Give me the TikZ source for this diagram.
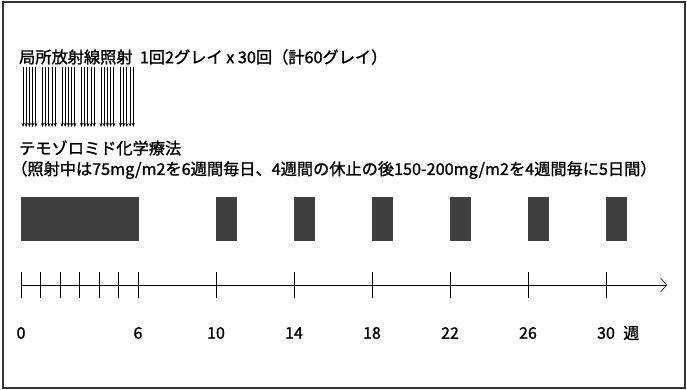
\documentclass[tikz,border=0pt]{standalone}
\usepackage{fontspec}
\setmainfont{Noto Sans CJK JP}
\newfontfamily\jpheavy{Noto Sans CJK JP}[FakeBold=1.3]
\usetikzlibrary{arrows.meta,positioning}

\begin{document}
\begin{tikzpicture}[
    x=1pt, y=-1pt,
    caption/.style={anchor=west, inner sep=0pt, font=\jpheavy\fontsize{16.2}{19}\selectfont},
    ticklabel/.style={inner sep=0pt, font=\jpheavy\fontsize{16}{18}\selectfont},
    dose/.style={rectangle, draw=black!75, fill=black!75, line width=0.5pt, anchor=north west, minimum height=43, inner sep=0pt},
    ray/.style={-{Stealth[length=4pt,width=3pt]}, line width=0.85pt},
    axis/.style={-{Straight Barb[length=6pt,width=14pt]}, line width=0.6pt},
    tick/.style={line width=0.6pt}
]

% Frame
\useasboundingbox (0,0) rectangle (687,390);
\draw[line width=1.5pt, black!80] (3,2) rectangle (685,388);

% Radiotherapy
\node[caption] (rt) at (19,57) {局所放射線照射\ \ 1回2グレイ x 30回（計60グレイ）};
\foreach \d in {0,...,5}
  \foreach \f in {0,...,4} {
    \coordinate (fx\d\f) at ({23+19.5*\d+3.2*\f},67);
    \draw[ray] (fx\d\f) -- ++(0,60);
  }

% Temozolomide
\node[caption] (tmz) at (19,148) {テモゾロミド化学療法};
\node[caption] (tmzplan) at (11,170) {（照射中は75mg/m2を6週間毎日、4週間の休止の後150-200mg/m2を4週間毎に5日間）};

% Doses
\node[dose, minimum width=117] (tmz0) at (21,197) {};
\foreach \w in {10,14,...,30}
  \node[dose, minimum width=19.5] (tmz\w) at ({21+19.5*\w},197) {};

% Time axis
\coordinate (origin) at (21,285);
\coordinate (axisend) at (667,285);
\draw[axis] (origin) -- (axisend);
\foreach \w in {0,...,6,10,14,...,30} {
  \coordinate (wk\w) at ({21+19.5*\w},285);
  \draw[tick] (wk\w) ++(0,-13) -- ++(0,26);
}
\foreach \w in {0,6,10,14,...,30}
  \node[ticklabel] (lab\w) at ({21+19.5*\w},333) {\w};
\node[ticklabel, right=8pt of lab30] (unit) {週};

\end{tikzpicture}
\end{document}
